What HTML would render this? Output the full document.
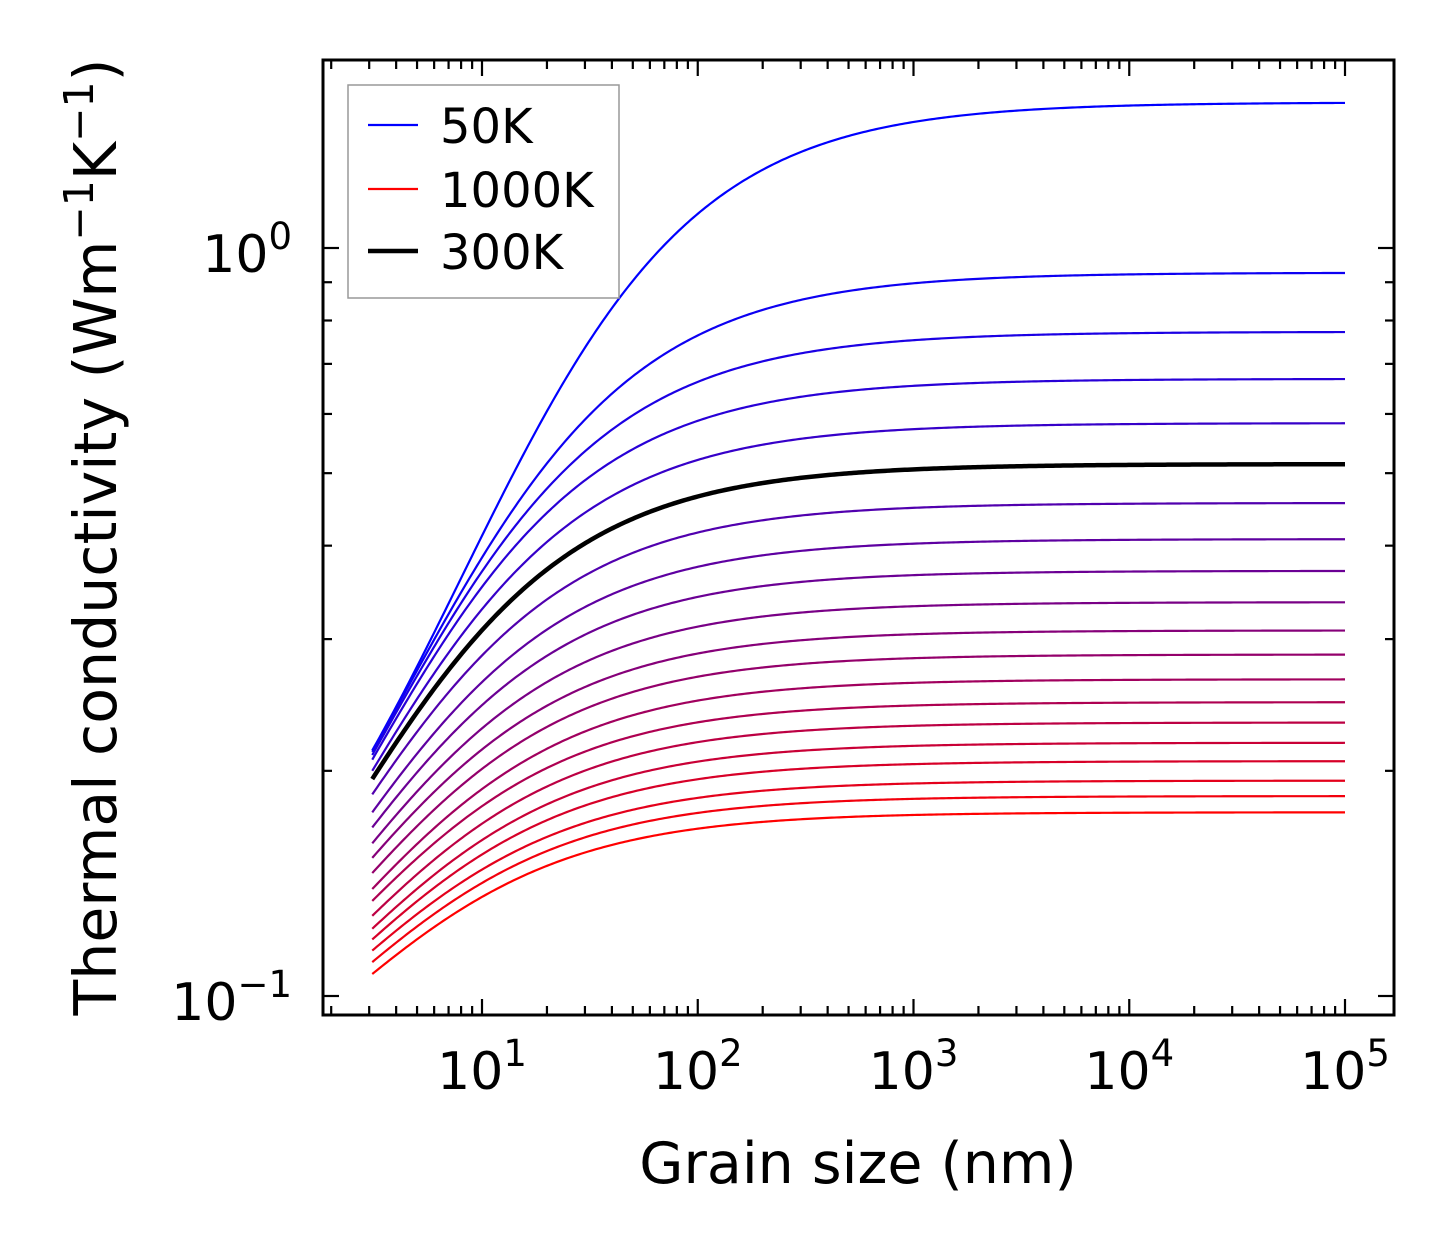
<!DOCTYPE html>
<html><head><meta charset="utf-8"><style>
body{margin:0;background:#fff;}
svg text{font-family:"DejaVu Sans","Liberation Sans",sans-serif;fill:#000;}
</style></head><body>
<svg id="chart" width="1454" height="1254" viewBox="0 0 1454 1254" xmlns="http://www.w3.org/2000/svg">
<rect width="1454" height="1254" fill="#fff"/>
<g id="curves"></g>
<g id="ticks"></g>
<rect x="323" y="60" width="1071" height="955" fill="none" stroke="#000" stroke-width="3"/>
<g>
<rect x="348" y="85" width="271" height="213" fill="#fff" stroke="#999" stroke-width="1.5"/>
<line x1="368" y1="125" x2="418" y2="125" stroke="#0000ff" stroke-width="2.2"/>
<text x="440" y="143" font-size="48">50K</text>
<line x1="368" y1="189" x2="418" y2="189" stroke="#ff0000" stroke-width="2.2"/>
<text x="440" y="207" font-size="48">1000K</text>
<line x1="368" y1="251" x2="418" y2="251" stroke="#000" stroke-width="4.5"/>
<text x="440" y="269" font-size="48">300K</text>
</g>
<text x="858" y="1183" font-size="57" text-anchor="middle">Grain size (nm)</text>
<text transform="translate(116,537) rotate(-90)" font-size="58.5" text-anchor="middle">Thermal conductivity (Wm<tspan dy="-23" font-size="41">−1</tspan><tspan dy="23">K</tspan><tspan dy="-23" font-size="41">−1</tspan><tspan dy="23">)</tspan></text>
</svg>
<script>
// temperatures (K)
const temps = [50,100,150,200,250,300,350,400,450,500,550,600,650,700,750,800,850,900,950,1000];
// conductivity at smallest grain size (3.1 nm)
const kStart = [0.213,0.212,0.210,0.207,0.200,0.195,0.186,0.176,0.168,0.160,0.153,0.146,0.139,0.134,0.128,0.123,0.119,0.115,0.111,0.107];
// bulk conductivity (1e5 nm)
const kBulk = [1.563,0.926,0.772,0.668,0.583,0.514,0.456,0.408,0.370,0.336,0.308,0.286,0.265,0.247,0.232,0.218,0.206,0.194,0.185,0.176];
// characteristic grain size (nm) of the boundary-scattering roll-off
const charSize = [8,4.2,3.2,2.6,2.3,2.1,2,2,2,2,2,2,2,2,2,2,2,2,2,2];
const xTicks = [1,2,3,4,5];
const yTicks = [-1,0];
const gMin = 3.1, gMax = 1e5;

const X = v => 482 + (Math.log10(v) - 1) * 215.75;
const Y = v => 248 - Math.log10(v) * 748;
const NS = "http://www.w3.org/2000/svg";
function mk(tag, attrs, parent){const e=document.createElementNS(NS,tag);for(const k in attrs)e.setAttribute(k,attrs[k]);parent.appendChild(e);return e;}

const cg = document.getElementById('curves');
let blackPath = null;
const q = 0.8;
temps.forEach((t,i)=>{
  const ls = Math.log10(kStart[i]), lb = Math.log10(kBulk[i]);
  const cq = Math.pow(charSize[i], q);
  const h = L => { const a = Math.pow(L, q); return a/(a+cq); };
  const h0 = h(gMin), h1 = h(gMax);
  let d = "";
  for(let j=0;j<=400;j++){
    const L = Math.pow(10, Math.log10(gMin) + (Math.log10(gMax)-Math.log10(gMin))*j/400);
    const g = (h(L)-h0)/(h1-h0);
    const k = Math.pow(10, ls + (lb-ls)*g);
    d += (j?"L":"M") + X(L).toFixed(2) + "," + Y(k).toFixed(2);
  }
  const f = i/(temps.length-1);
  const col = `rgb(${Math.round(255*f)},0,${Math.round(255*(1-f))})`;
  const p = mk('path',{d:d,fill:'none',stroke:t===300?'#000':col,'stroke-width':t===300?4.5:2.2},cg);
  
  
  if(t===300) blackPath=p;
});
if(blackPath) cg.appendChild(blackPath);

const tg = document.getElementById('ticks');
const L=323,R=1394,T=60,B=1015;
function tick(x1,y1,x2,y2){const l=mk('line',{x1,y1,x2,y2,stroke:'#000','stroke-width':2.2},tg);

}
for(let e=0;e<=5;e++){
  for(let m=1;m<=9;m++){
    const x=X(m*Math.pow(10,e)); if(x<L||x>R) continue;
    const len = m===1?16:9;
    tick(x,B,x,B-len); tick(x,T,x,T+len);
  }
}
for(let e=-2;e<=0;e++){
  for(let m=1;m<=9;m++){
    const y=Y(m*Math.pow(10,e)); if(y<T||y>B) continue;
    const len = m===1?16:9;
    tick(L,y,L+len,y); tick(R,y,R-len,y);
  }
}
xTicks.forEach(e=>{
  const t=mk('text',{x:X(Math.pow(10,e)),y:1089,'font-size':52,'text-anchor':'middle'},tg);
  
  
  t.innerHTML='10<tspan dy="-23" font-size="37">'+e+'</tspan>';
});
yTicks.forEach(e=>{
  const t=mk('text',{x:292,y:Y(Math.pow(10,e))+24,'font-size':52,'text-anchor':'end'},tg);
  
  
  t.innerHTML='10<tspan dy="-23" font-size="37">'+(e<0?'−'+(-e):e)+'</tspan>';
});
</script>
</body></html>
